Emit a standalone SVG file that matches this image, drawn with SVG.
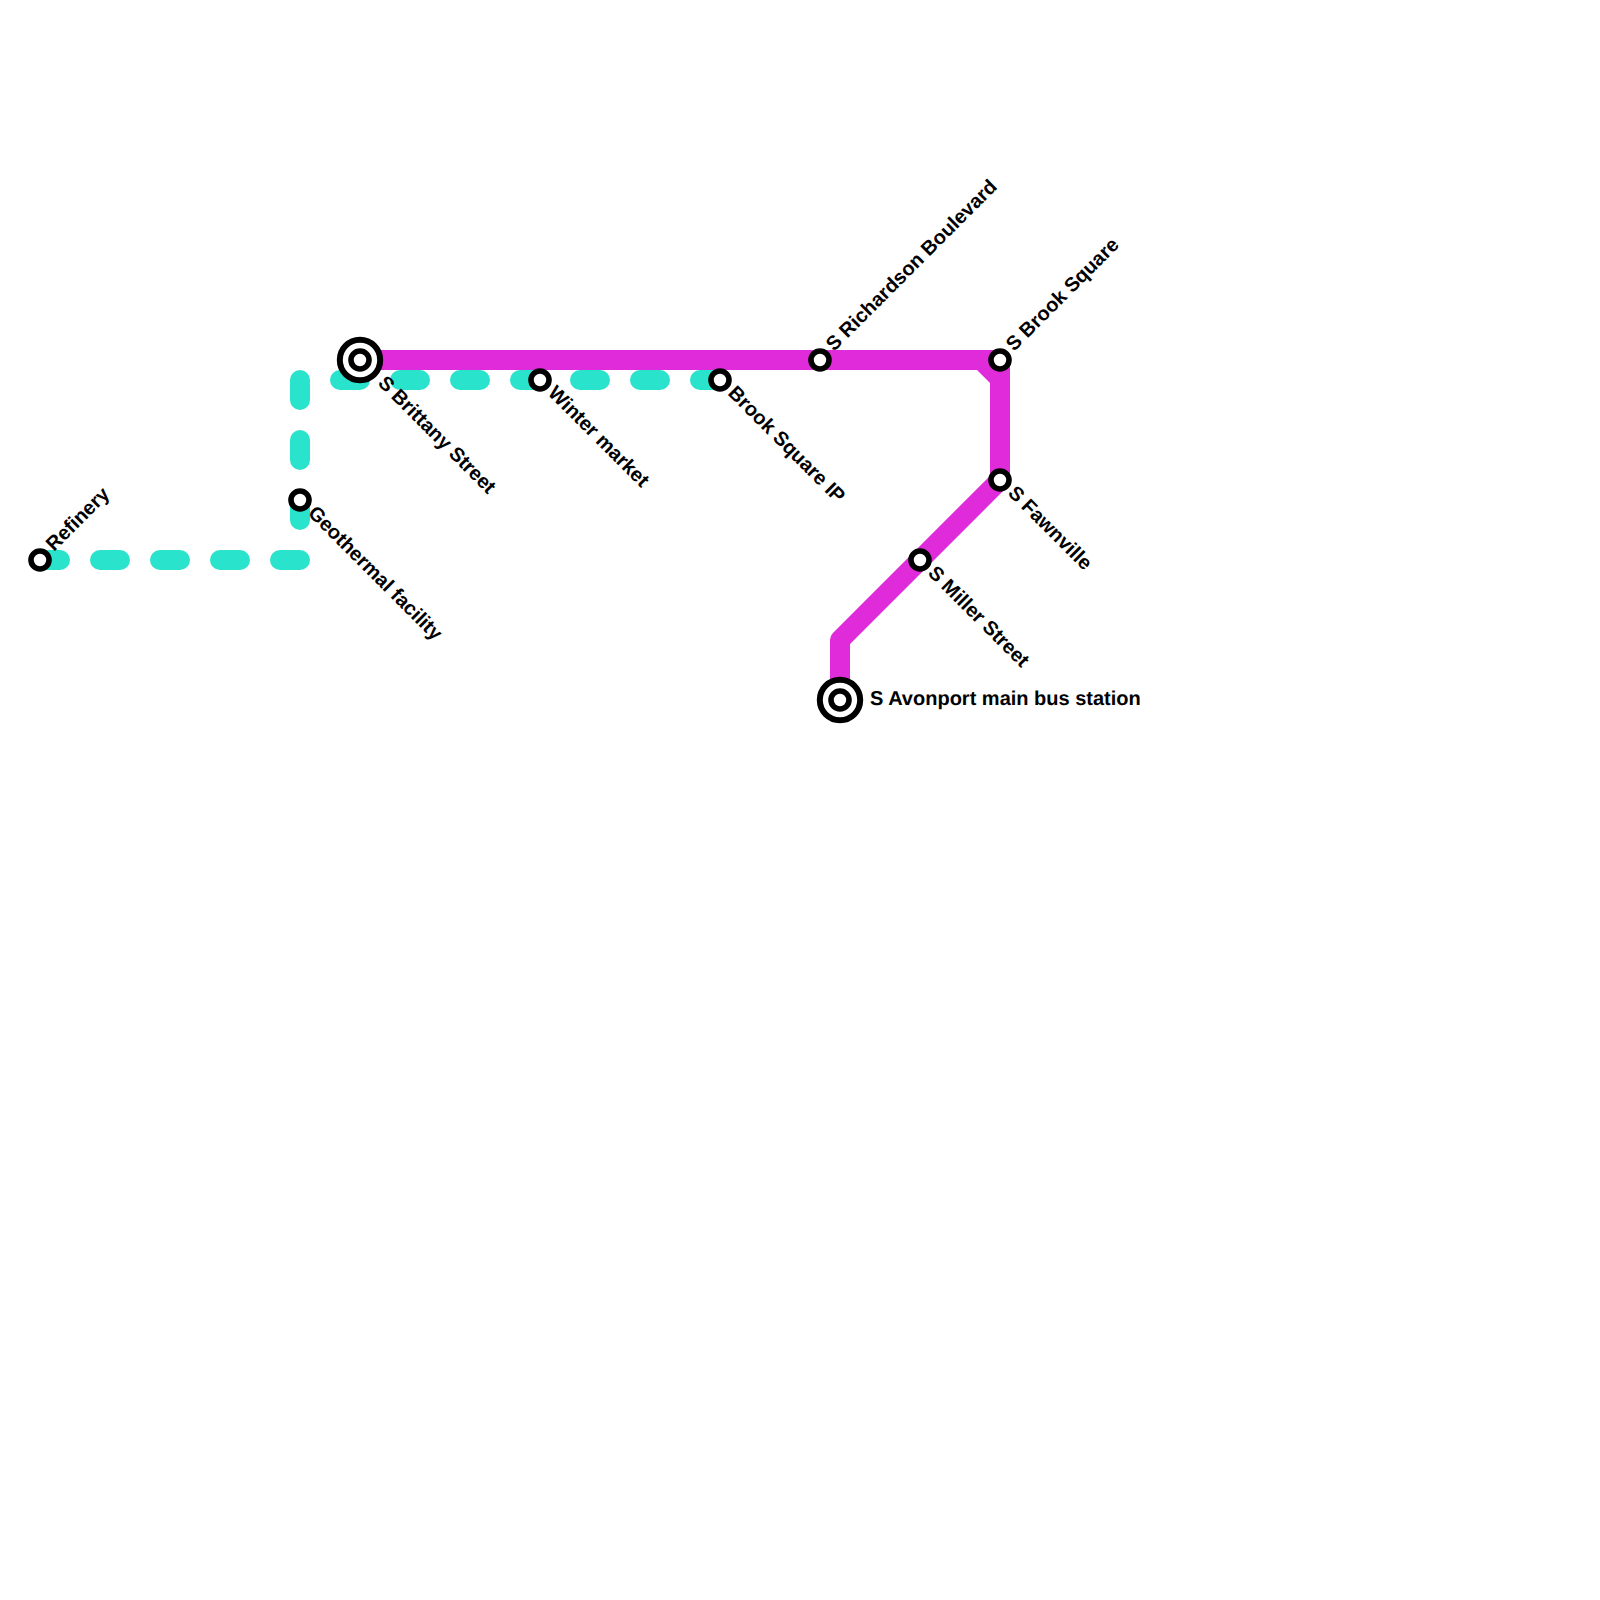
<svg xmlns="http://www.w3.org/2000/svg" width="1600" height="1600" viewBox="0 0 1600 1600">
<style>
.line{fill:none;stroke-width:20;stroke-linejoin:round}
.teal{stroke:#2ae3cc;stroke-linecap:round;stroke-dasharray:20 40}
.mag{stroke:#e02bda}
.st{fill:#fff;stroke:#000;stroke-width:5.6}
.ring{fill:#fff;stroke:#000;stroke-width:6}
.lbl{font-family:"Liberation Sans",Arial,sans-serif;font-weight:700;font-size:20px;fill:#000;text-rendering:geometricPrecision}
</style>
<rect width="1600" height="1600" fill="#fff"/>
<g id="connectors">
<path class="line teal" d="M40 560H300V380H720"/>
<path class="line mag" d="M360 360H1000V480L840 640V700"/>
<path fill="#e02bda" d="M976 369H991V384Z"/>
</g>
<g id="n-refinery"><circle class="st" cx="40" cy="560" r="9"/><text class="lbl" transform="translate(54 552) rotate(-45)">Refinery</text></g>
<g id="n-geothermal"><circle class="st" cx="300" cy="500" r="9"/><text class="lbl" transform="translate(307 514) rotate(45)">Geothermal facility</text></g>
<g id="n-brittany"><circle class="ring" cx="360" cy="360" r="20.2"/><circle class="st" cx="360" cy="360" r="9"/><text class="lbl" transform="translate(377 384) rotate(45)">S Brittany Street</text></g>
<g id="n-winter"><circle class="st" cx="540" cy="380" r="9"/><text class="lbl" transform="translate(547 394) rotate(45)">Winter market</text></g>
<g id="n-brook-ip"><circle class="st" cx="720" cy="380" r="9"/><text class="lbl" transform="translate(727 394) rotate(45)">Brook Square IP</text></g>
<g id="n-richardson"><circle class="st" cx="820" cy="360" r="9"/><text class="lbl" transform="translate(834 352) rotate(-45)">S Richardson Boulevard</text></g>
<g id="n-brook"><circle class="st" cx="1000" cy="360" r="9"/><text class="lbl" transform="translate(1014 352) rotate(-45)">S Brook Square</text></g>
<g id="n-fawnville"><circle class="st" cx="1000" cy="480" r="9"/><text class="lbl" transform="translate(1007 494) rotate(45)">S Fawnville</text></g>
<g id="n-miller"><circle class="st" cx="920" cy="560" r="9"/><text class="lbl" transform="translate(927 574) rotate(45)">S Miller Street</text></g>
<g id="n-avonport"><circle class="ring" cx="840" cy="700" r="20.2"/><circle class="st" cx="840" cy="700" r="9"/><text class="lbl" x="870" y="705">S Avonport main bus station</text></g>
</svg>
